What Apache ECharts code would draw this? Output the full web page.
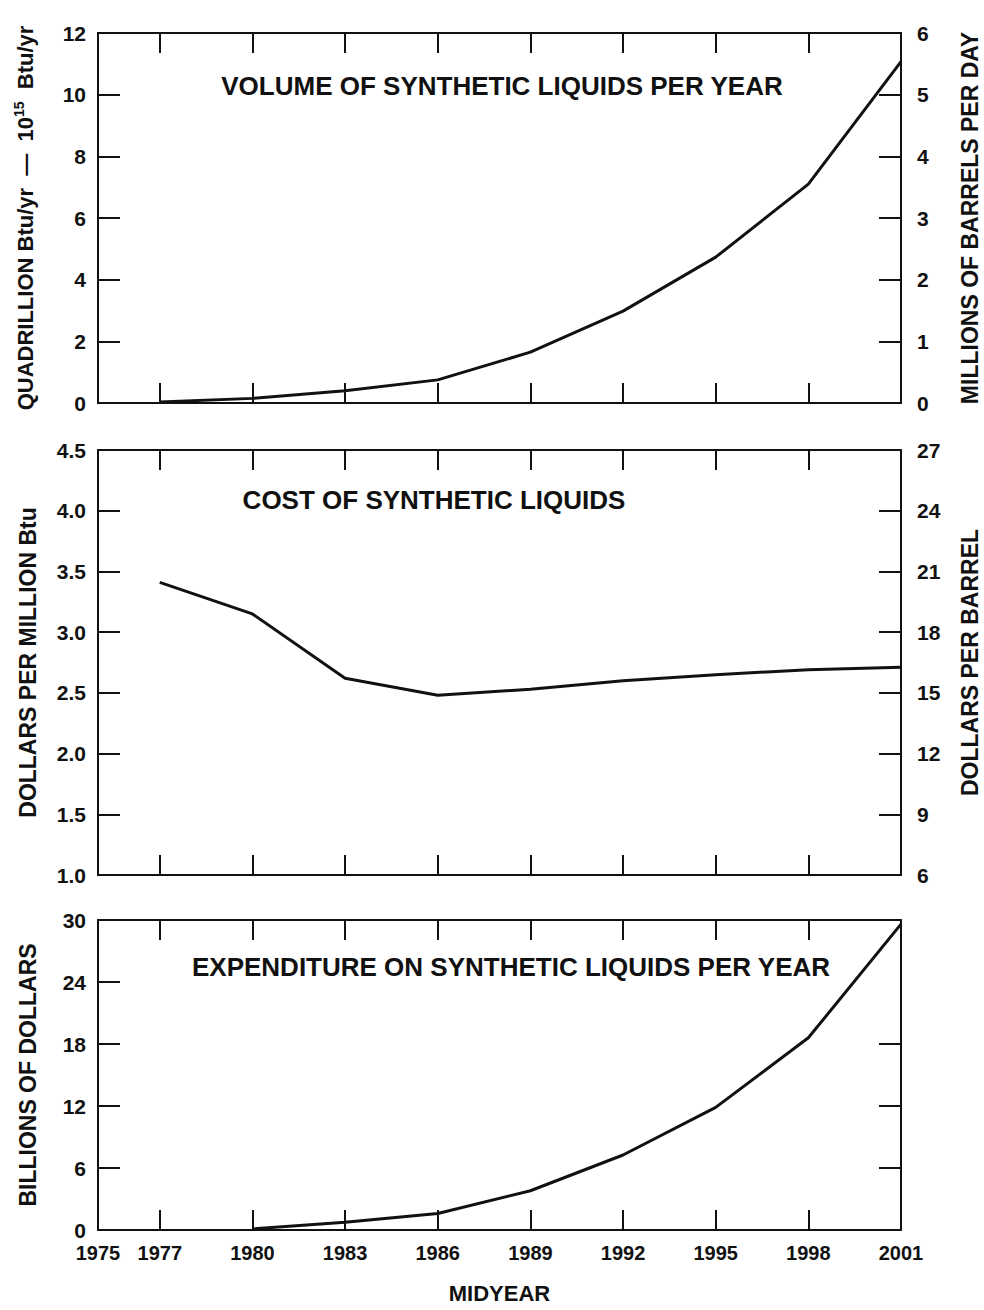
<!DOCTYPE html>
<html>
<head>
<meta charset="utf-8">
<script src="https://cdn.jsdelivr.net/npm/echarts@6/dist/echarts.min.js"></script>
<style>
html,body{margin:0;padding:0;background:#fff;}
#c{width:984px;height:1310px;}
</style>
</head>
<body>
<div id="c"></div>
<script>
// ---- data ----
const years = [1977, 1980, 1983, 1986, 1989, 1992, 1995, 1998, 2001];
const volumeQuads = [0.03, 0.15, 0.4, 0.75, 1.65, 2.98, 4.73, 7.1, 11.07];
const costPerMBtu = [3.41, 3.15, 2.62, 2.48, 2.53, 2.60, 2.65, 2.69, 2.71];
const expYears = [1980, 1983, 1986, 1989, 1992, 1995, 1998, 2001];
const expenditure = [0.1, 0.75, 1.6, 3.8, 7.26, 11.87, 18.6, 29.6];

// ---- tick labels ----
const xLabelYears = [1975, 1977, 1980, 1983, 1986, 1989, 1992, 1995, 1998, 2001];
const xTickYears = [1977, 1980, 1983, 1986, 1989, 1992, 1995, 1998];
const volumeTicks = [0, 2, 4, 6, 8, 10, 12];
const barrelTicks = [0, 1, 2, 3, 4, 5, 6];
const costTicks = [1.0, 1.5, 2.0, 2.5, 3.0, 3.5, 4.0, 4.5];
const perBarrelTicks = [6, 9, 12, 15, 18, 21, 24, 27];
const expTicks = [0, 6, 12, 18, 24, 30];
const expRightTicks = [6, 12, 18];

const titles = ['VOLUME OF SYNTHETIC LIQUIDS PER YEAR', 'COST OF SYNTHETIC LIQUIDS', 'EXPENDITURE ON SYNTHETIC LIQUIDS PER YEAR'];

const FONT = "'Liberation Sans', Arial, sans-serif";
const INK = '#111';

const grids = [
  {left: 98, top: 33, width: 803, height: 370, outerBoundsMode: 'none', containLabel: false},
  {left: 98, top: 450, width: 803, height: 425, outerBoundsMode: 'none', containLabel: false},
  {left: 98, top: 920, width: 803, height: 310, outerBoundsMode: 'none', containLabel: false}
];

function xAx(gi, pos, labels) {
  return {
    type: 'value', gridIndex: gi, position: pos,
    min: xLabelYears[0], max: xLabelYears[xLabelYears.length - 1],
    axisLine: {show: true, onZero: false, lineStyle: {color: INK, width: 2}},
    axisTick: {show: true, inside: true, length: 20, customValues: xTickYears, lineStyle: {color: INK, width: 2}},
    axisLabel: labels ? {show: true, customValues: xLabelYears, margin: 13, color: INK, fontFamily: FONT, fontWeight: 'bold', fontSize: 20, formatter: v => String(v)} : {show: false},
    splitLine: {show: false},
    name: labels ? 'MIDYEAR' : '',
    nameLocation: 'middle', nameGap: 52,
    nameTextStyle: {color: INK, fontFamily: FONT, fontWeight: 'bold', fontSize: 22}
  };
}

function yAx(gi, pos, ticks, name, gap, opts) {
  opts = opts || {};
  const step = ticks[1] - ticks[0];
  return {
    type: 'value', gridIndex: gi, position: pos,
    min: ticks[0], max: ticks[ticks.length - 1], interval: step,
    axisLine: {show: true, onZero: false, lineStyle: {color: INK, width: 2}},
    axisTick: Object.assign({show: true, inside: true, length: 22, lineStyle: {color: INK, width: 2}}, opts.tickValues ? {customValues: opts.tickValues} : {}),
    axisLabel: opts.noLabel ? {show: false} : {show: true, margin: pos === 'left' ? 12 : 16, color: INK, fontFamily: FONT, fontWeight: 'bold', fontSize: 21,
      formatter: v => opts.fixed ? v.toFixed(opts.fixed) : String(v)},
    splitLine: {show: false},
    name: name || '', nameLocation: 'middle', nameGap: gap || 60, nameRotate: 90,
    nameTextStyle: Object.assign({color: INK, fontFamily: FONT, fontWeight: 'bold', fontSize: 23}, opts.rich ? {rich: opts.rich} : {})
  };
}

const richQuad = {
  n: {fontFamily: FONT, fontWeight: 'bold', fontSize: 22, color: INK, lineHeight: 27},
  s: {fontFamily: FONT, fontWeight: 'bold', fontSize: 14, color: INK, lineHeight: 27, verticalAlign: 'top', padding: [0, 0, 8, 0]}
};

const option = {
  animation: false,
  backgroundColor: '#fff',
  grid: grids,
  xAxis: [xAx(0, 'bottom', false), xAx(0, 'top', false), xAx(1, 'bottom', false), xAx(1, 'top', false), xAx(2, 'bottom', true), xAx(2, 'top', false)],
  yAxis: [
    yAx(0, 'left', volumeTicks, '{n|QUADRILLION Btu/yr  —  10}{s|15}{n|  Btu/yr}', 59, {rich: richQuad}),
    yAx(0, 'right', barrelTicks, 'MILLIONS OF BARRELS PER DAY', 57),
    yAx(1, 'left', costTicks, 'DOLLARS PER MILLION Btu', 59, {fixed: 1}),
    yAx(1, 'right', perBarrelTicks, 'DOLLARS PER BARREL', 57),
    yAx(2, 'left', expTicks, 'BILLIONS OF DOLLARS', 59),
    yAx(2, 'right', expTicks, '', 60, {noLabel: true, tickValues: expRightTicks})
  ],
  graphic: [
    {type: 'text', x: 502, y: 86, style: {text: titles[0], font: "bold 26px " + FONT, fill: INK, align: 'center', verticalAlign: 'middle'}},
    {type: 'text', x: 434, y: 500, style: {text: titles[1], font: "bold 26px " + FONT, fill: INK, align: 'center', verticalAlign: 'middle'}},
    {type: 'text', x: 511, y: 967, style: {text: titles[2], font: "bold 26px " + FONT, fill: INK, align: 'center', verticalAlign: 'middle'}}
  ],
  series: [
    {type: 'line', xAxisIndex: 0, yAxisIndex: 0, showSymbol: false, lineStyle: {color: INK, width: 3}, data: years.map((y, i) => [y, volumeQuads[i]])},
    {type: 'line', xAxisIndex: 2, yAxisIndex: 2, showSymbol: false, lineStyle: {color: INK, width: 3}, data: years.map((y, i) => [y, costPerMBtu[i]])},
    {type: 'line', xAxisIndex: 4, yAxisIndex: 4, showSymbol: false, lineStyle: {color: INK, width: 3}, data: expYears.map((y, i) => [y, expenditure[i]])}
  ]
};

const chart = echarts.init(document.getElementById('c'), null, {renderer: 'svg', width: 984, height: 1310});
chart.setOption(option);
</script>
</body>
</html>
